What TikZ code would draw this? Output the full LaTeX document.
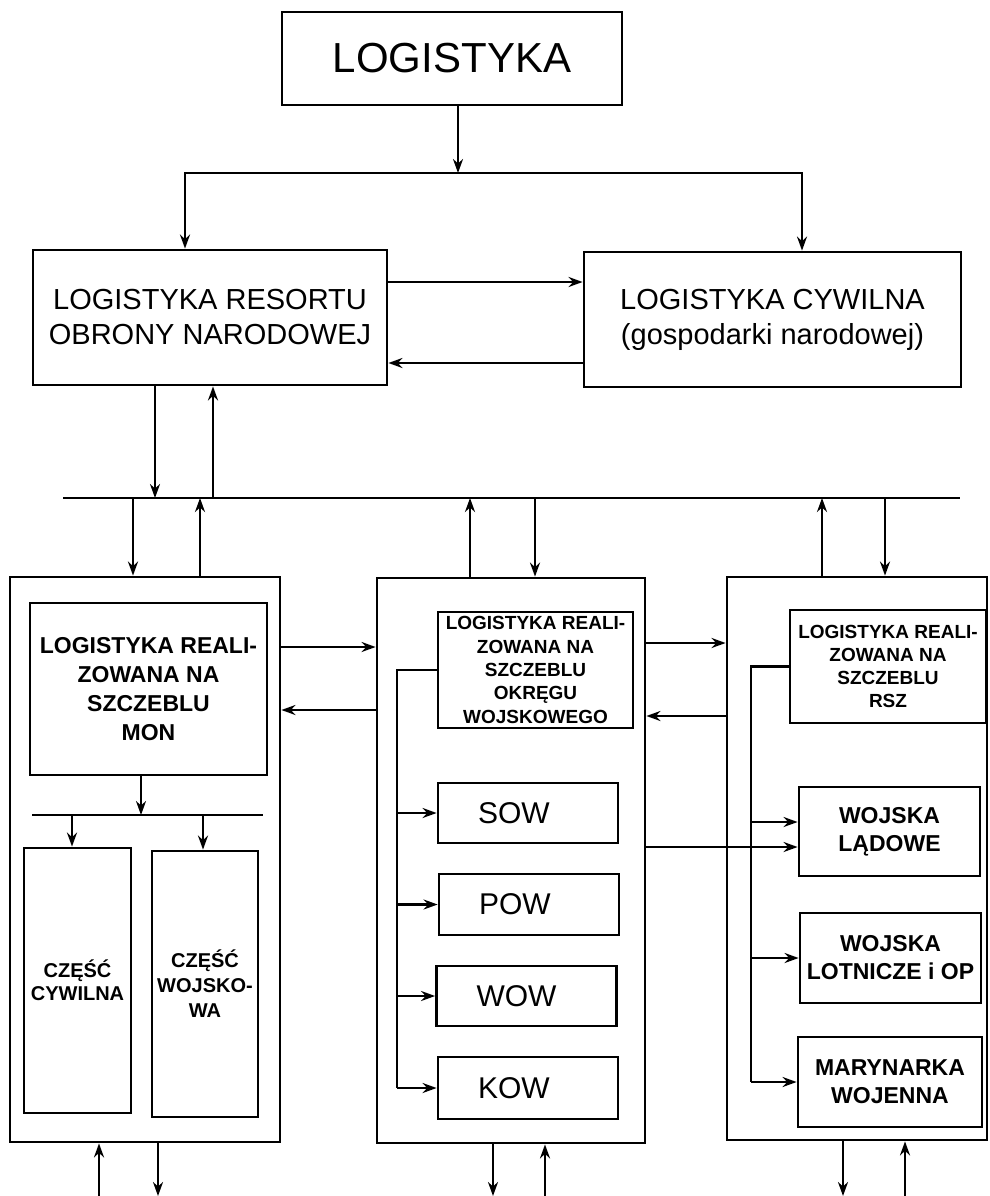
\documentclass[tikz,border=0pt]{standalone}
\usepackage{fontspec}
\setmainfont{Liberation Sans}
\usetikzlibrary{arrows.meta}

\begin{document}
\begin{tikzpicture}[x=1pt, y=-1pt,
    box/.style={draw, line width=2.8pt, inner sep=0pt, align=center},
    arr/.style={line width=2.3pt, -{Stealth[length=14pt,width=10pt]}},
    arrs/.style={line width=2.3pt, {Stealth[length=14pt,width=10pt]}-{Stealth[length=14pt,width=10pt]}},
    ln/.style={line width=2.3pt},
    big/.style={font=\fontsize{29}{35}\selectfont},
    mid/.style={font=\bfseries\fontsize{23}{28}\selectfont},
    small/.style={font=\bfseries\fontsize{19}{23.3}\selectfont},
    unit/.style={box, font=\fontsize{30}{34}\selectfont, minimum height=60pt, text width=100pt, inner xsep=40pt, align=left}]
    \useasboundingbox (0,0) rectangle (989,1196);

    \node[box, minimum width=340pt, minimum height=93pt, font=\fontsize{42}{48}\selectfont] (log) at (452,58.5) {LOGISTYKA};
    \node[box, big, minimum width=354pt, minimum height=135pt] (lron) at (210,317.5) {LOGISTYKA RESORTU\\OBRONY NARODOWEJ};
    \node[box, big, minimum width=377pt, minimum height=135pt] (lcyw) at (772.5,319.5) {LOGISTYKA CYWILNA\\(gospodarki narodowej)};

    \node[box, minimum width=270pt, minimum height=565pt] (kol1) at (145,859.5) {};
    \node[box, minimum width=268pt, minimum height=565pt] (kol2) at (511,860.5) {};
    \node[box, minimum width=260pt, minimum height=563pt] (kol3) at (857,858.5) {};

    \node[box, minimum width=237pt, minimum height=172pt, font=\bfseries\fontsize{23}{29}\selectfont] (mon) at (148.5,689) {LOGISTYKA REALI-\\ZOWANA NA\\SZCZEBLU\\MON};
    \node[box, minimum width=107pt, minimum height=265pt, font=\bfseries\fontsize{20}{23}\selectfont] (cyw) at (77.5,980.5) {CZĘŚĆ\\CYWILNA};
    \node[box, minimum width=106pt, minimum height=266pt, font=\bfseries\fontsize{20}{25}\selectfont] (woj) at (205,984) {CZĘŚĆ\\WOJSKO-\\WA};

    \node[box, small, minimum width=195pt, minimum height=116pt] (okr) at (535.5,670) {LOGISTYKA REALI-\\ZOWANA NA\\SZCZEBLU\\OKRĘGU\\WOJSKOWEGO};
    \node[unit] (sow) at (528,813) {SOW};
    \node[unit, minimum height=61pt] (pow) at (529,904.5) {POW};
    \node[unit] (wow) at (526.5,996) {WOW};
    \node[unit, minimum height=62pt] (kow) at (528,1088) {KOW};

    \node[box, small, minimum width=196pt, minimum height=113pt] (rsz) at (888,666.5) {LOGISTYKA REALI-\\ZOWANA NA\\SZCZEBLU\\RSZ};
    \node[box, mid, minimum width=181pt, minimum height=89pt] (wl) at (889.5,831.5) {WOJSKA\\LĄDOWE};
    \node[box, mid, minimum width=181pt, minimum height=90pt] (wlot) at (890.5,958) {WOJSKA\\LOTNICZE i OP};
    \node[box, mid, minimum width=184pt, minimum height=90pt] (mw) at (890,1082) {MARYNARKA\\WOJENNA};

    \coordinate (rozL) at (185,173);
    \coordinate (rozR) at (802,173);
    \draw[arr] ([xshift=6pt]log.south) -- ([xshift=6pt]log.south |- rozL);
    \draw[arrs] (rozL |- lron.north) -- (rozL) -- (rozR) -- (rozR |- lcyw.north);
    \draw[arr] ([yshift=35.5pt]lron.east) -- ([yshift=35.5pt]lron.east -| lcyw.west);
    \draw[arr] ([yshift=-43.5pt]lcyw.west) -- ([yshift=-43.5pt]lcyw.west -| lron.east);

    \coordinate (busL) at (63,498);
    \coordinate (busR) at (960,498);
    \draw[ln] (busL) -- (busR);
    \draw[arr] ([xshift=-55pt]lron.south) -- ([xshift=-55pt]lron.south |- busL);
    \draw[arr] ([xshift=3pt]lron.south |- busL) -- ([xshift=3pt]lron.south);
    \draw[arr] ([xshift=-12pt]kol1.north |- busL) -- ([xshift=-12pt]kol1.north);
    \draw[arr] ([xshift=55pt]kol1.north) -- ([xshift=55pt]kol1.north |- busL);
    \draw[arr] ([xshift=-41pt]kol2.north) -- ([xshift=-41pt]kol2.north |- busL);
    \draw[arr] ([xshift=24pt]kol2.north |- busL) -- ([xshift=24pt]kol2.north);
    \draw[arr] ([xshift=-35pt]kol3.north) -- ([xshift=-35pt]kol3.north |- busL);
    \draw[arr] ([xshift=28pt]kol3.north |- busL) -- ([xshift=28pt]kol3.north);

    \draw[arr] ([yshift=212.5pt]kol1.east) -- ([yshift=212.5pt]kol1.east -| kol2.west);
    \draw[arr] ([yshift=149.5pt]kol1.east -| kol2.west) -- ([yshift=149.5pt]kol1.east);
    \draw[arr] ([yshift=217.5pt]kol2.east) -- ([yshift=217.5pt]kol2.east -| kol3.west);
    \draw[arr] ([yshift=144.5pt]kol2.east -| kol3.west) -- ([yshift=144.5pt]kol2.east);

    \coordinate (monL) at (32,815);
    \coordinate (monR) at (263,815);
    \draw[arr] ([xshift=-7.5pt]mon.south) -- ([xshift=-7.5pt]mon.south |- monL);
    \draw[ln] (monL) -- (monR);
    \draw[arr] ([xshift=-5.5pt]cyw.north |- monL) -- ([xshift=-5.5pt]cyw.north);
    \draw[arr] ([xshift=-2pt]woj.north |- monL) -- ([xshift=-2pt]woj.north);

    \coordinate (pion2) at (397,670);
    \draw[ln] (okr.west) -- (okr.west -| pion2) -- (pion2 |- kow.west);
    \foreach \b in {sow,pow,wow,kow}
        \draw[arr] (\b.west -| pion2) -- (\b.west);

    \coordinate (pion3) at (751,672);
    \draw[ln] (rsz.west) -- (rsz.west -| pion3) -- (pion3 |- mw.west);
    \draw[arr] ([yshift=9.5pt]wl.west -| pion3) -- ([yshift=9.5pt]wl.west);
    \draw[arr] (wlot.west -| pion3) -- (wlot.west);
    \draw[arr] (mw.west -| pion3) -- (mw.west);
    \draw[arr] ([yshift=-15.5pt]wl.west -| kol2.east) -- ([yshift=-15.5pt]wl.west);

    \coordinate (dol) at (0,1196);
    \draw[arr] ([xshift=-46pt]kol1.south |- dol) -- ([xshift=-46pt]kol1.south);
    \draw[arr] ([xshift=13pt]kol1.south) -- ([xshift=13pt]kol1.south |- dol);
    \draw[arr] ([xshift=-18pt]kol2.south) -- ([xshift=-18pt]kol2.south |- dol);
    \draw[arr] ([xshift=34pt]kol2.south |- dol) -- ([xshift=34pt]kol2.south);
    \draw[arr] ([xshift=-14pt]kol3.south) -- ([xshift=-14pt]kol3.south |- dol);
    \draw[arr] ([xshift=48pt]kol3.south |- dol) -- ([xshift=48pt]kol3.south);
\end{tikzpicture}
\end{document}
